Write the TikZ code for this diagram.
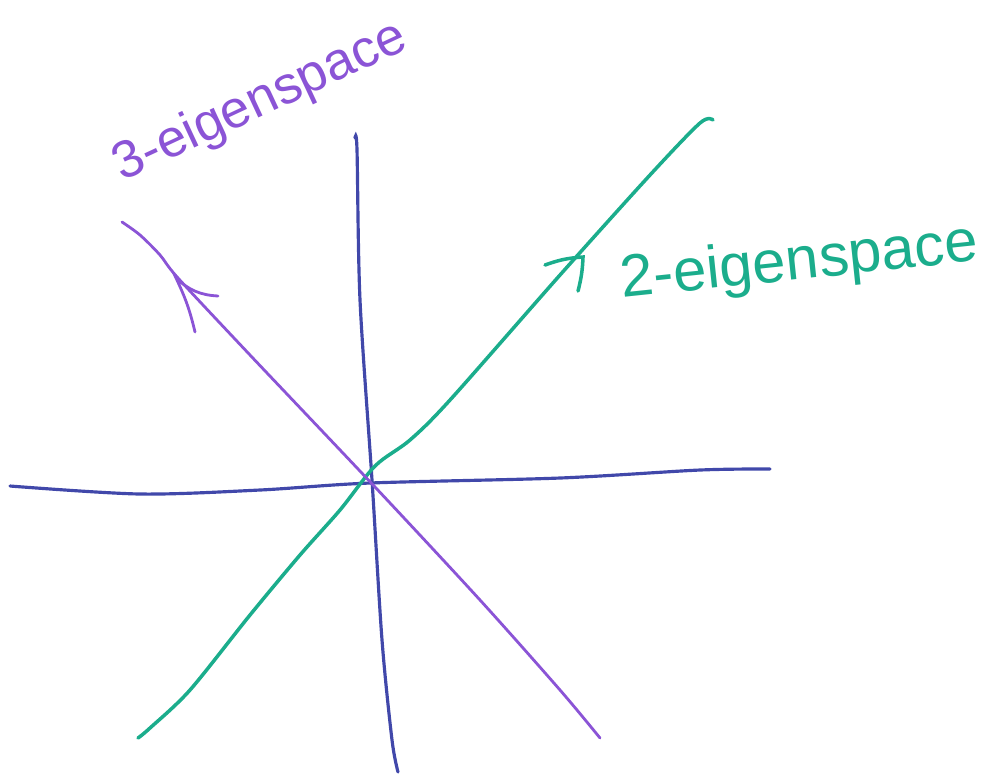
\documentclass[tikz,border=0pt]{standalone}
\usepackage{fontspec}
\setmainfont{Liberation Sans}
\definecolor{axisblue}{RGB}{65,72,170}
\definecolor{eiggreen}{RGB}{27,173,140}
\definecolor{eigpurple}{RGB}{139,84,214}

\begin{document}
\begin{tikzpicture}[x=0.01cm, y=-0.01cm,
        axis/.style={axisblue, line width=0.9pt, line cap=round},
        eigtwo/.style={eiggreen, line width=1pt, line cap=round},
        eigthree/.style={eigpurple, line width=0.8pt, line cap=round},
        label/.style={inner sep=0pt, font=\fontsize{17}{19}\selectfont}]
    \useasboundingbox (0,0) rectangle (1004,778);

    % Osie
    \draw[axis] plot[smooth] coordinates {(355,138) (357,150) (360,300) (372,480) (382,640) (392,740) (398,772)};
    \draw[axis] plot[smooth] coordinates {(10,486) (140,494) (260,490) (370,483) (560,478) (700,470) (770,469)};

    % 2-eigenspace
    \draw[eigtwo] plot[smooth] coordinates {(138,738) (150,728) (190,690) (250,615) (300,555) (340,510) (375,466) (410,440) (450,400) (560,275) (650,175) (700,123) (713,120)};
    \coordinate (tip2) at (583,257);
    \coordinate (left2) at (545,265);
    \coordinate (low2) at (578,291);
    \draw[eigtwo] (left2) to[bend left=8] (tip2) to[bend left=6] (low2);
    \node[label, text=eiggreen, anchor=base west, rotate=6] (lab2) at (622,298) {2-eigenspace};

    % 3-eigenspace
    \draw[eigthree] plot[smooth] coordinates {(122,222) (140,235) (160,255) (178,278) (250,355) (375,487) (480,600) (560,690) (600,738)};
    \coordinate (tip3) at (176,278);
    \coordinate (right3) at (218,296);
    \coordinate (low3) at (195,332);
    \draw[eigthree] (right3) to[bend left=20] (tip3) to[bend left=6] (low3);
    \node[label, font=\fontsize{15}{17}\selectfont, text=eigpurple, anchor=base west, rotate=25] (lab3) at (122,182) {3-eigenspace};
\end{tikzpicture}
\end{document}
